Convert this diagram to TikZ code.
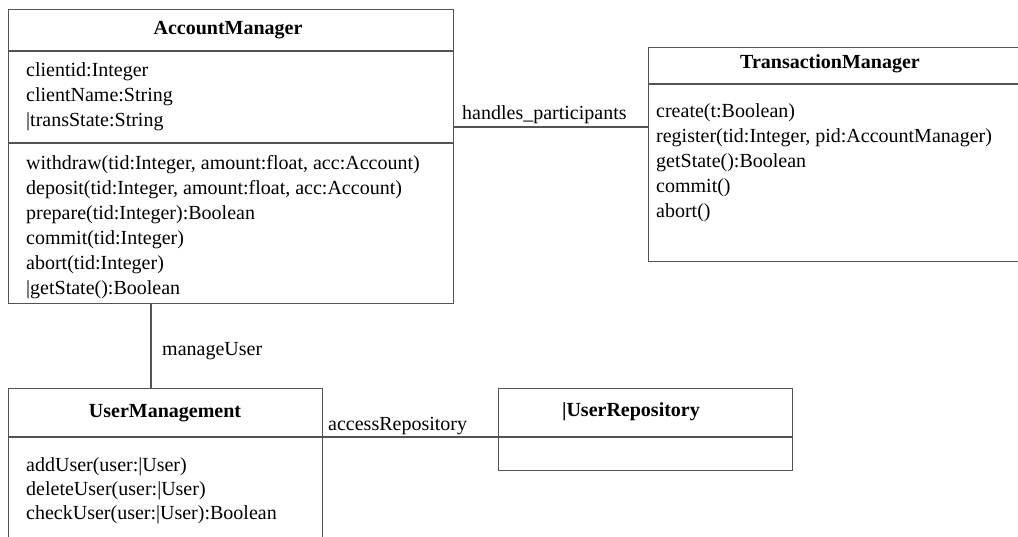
\documentclass[tikz,border=0pt]{standalone}
\usepackage{fontspec}
\setmainfont{Liberation Serif}
\definecolor{linegray}{rgb}{0.33,0.33,0.33}
\begin{document}
\begin{tikzpicture}[x=1pt,y=-1pt,
  umlbox/.style={draw=linegray, line width=1.2pt, inner sep=0pt, anchor=north west},
  rule/.style={draw=linegray, line width=1.2pt},
  assoc/.style={draw=linegray, line width=1.2pt},
  title/.style={font=\fontsize{20}{25}\selectfont\bfseries, inner sep=0pt},
  member/.style={font=\fontsize{20}{25}\selectfont, inner sep=0pt, anchor=base west},
  ]
\useasboundingbox (0,0) rectangle (1018,537);
\clip (0,0) rectangle (1018,537);

% ---- class boxes ----
\node[umlbox, minimum width=445pt, minimum height=294pt] (am) at (8,9) {};
\node[umlbox, minimum width=420pt, minimum height=214pt] (tm) at (648,47) {};
\node[umlbox, minimum width=314pt, minimum height=180pt] (um) at (8,388) {};
\node[umlbox, minimum width=294pt, minimum height=82pt] (ur) at (498,388) {};

% ---- compartment rules ----
\draw[rule] (am.west |- 0,51) -- (am.east |- 0,51);
\draw[rule] (am.west |- 0,143) -- (am.east |- 0,143);
\draw[rule] (tm.west |- 0,84) -- (tm.east |- 0,84);
\draw[rule] (um.west |- 0,437) -- (um.east |- 0,437);
\draw[rule] (ur.west |- 0,437) -- (ur.east |- 0,437);

% ---- class names ----
\node[title] (am-t) at (228,30) {AccountManager};
\node[title] (tm-t) at (830,64) {TransactionManager};
\node[title] (um-t) at (165,413) {UserManagement};
\node[title] (ur-t) at (631,412) {|UserRepository};

% ---- AccountManager members ----
\foreach \t [count=\i] in {clientid:Integer, clientName:String, |transState:String}
  \node[member] (am-a\i) at (26,{77+25*(\i-1)}) {\t};
\foreach \t [count=\i] in {{withdraw(tid:Integer, amount:float, acc:Account)},
    {deposit(tid:Integer, amount:float, acc:Account)},
    prepare(tid:Integer):Boolean, commit(tid:Integer), abort(tid:Integer),
    |getState():Boolean}
  \node[member] (am-m\i) at (26,{170+25*(\i-1)}) {\t};

% ---- TransactionManager members ----
\foreach \t [count=\i] in {create(t:Boolean), {register(tid:Integer, pid:AccountManager)},
    getState():Boolean, commit(), abort()}
  \node[member] (tm-m\i) at (656,{118+25*(\i-1)}) {\t};

% ---- UserManagement members ----
\foreach \t [count=\i] in {addUser(user:|User), deleteUser(user:|User),
    checkUser(user:|User):Boolean}
  \node[member] (um-m\i) at (26,{471+24*(\i-1)}) {\t};

% ---- associations ----
\coordinate (hp) at (550,127);
\coordinate (mu) at (151,340);
\coordinate (ar) at (410,437);
\draw[assoc] (am.east |- hp) -- (tm.west |- hp);
\draw[assoc] (am.south -| mu) -- (um.north -| mu);
\draw[assoc] (um.east |- ar) -- (ur.west |- ar);

\node[member] (hp-l) at (462,120) {handles\_participants};
\node[member] (mu-l) at (162,356) {manageUser};
\node[member] (ar-l) at (328,430) {accessRepository};
\end{tikzpicture}
\end{document}
